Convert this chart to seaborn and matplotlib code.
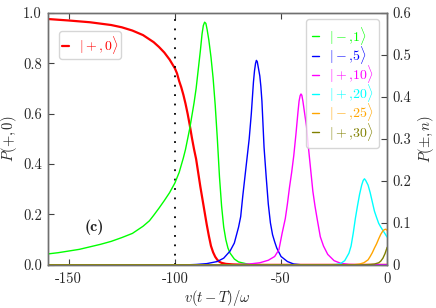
import matplotlib
matplotlib.use("Agg")
import matplotlib.pyplot as plt
import seaborn as sns
import pandas as pd

# P(+,0) on the left axis
red_x = [-160, -150, -140, -130, -125, -120, -115, -110, -107.5, -105, -102.5, -100, -99, -98,
         -97, -96, -95, -94, -93, -92, -91, -90, -89, -88, -87, -86, -85, -84, -83, -82,
         -81, -80, -79, -78, -76, -73, -70, -60, 0]
red_y = [0.976, 0.970, 0.963, 0.952, 0.943, 0.930, 0.912, 0.884, 0.865, 0.843, 0.815, 0.78,
         0.76, 0.73, 0.705, 0.675, 0.64, 0.60, 0.555, 0.505, 0.46, 0.42, 0.365, 0.31, 0.26,
         0.21, 0.16, 0.115, 0.075, 0.05, 0.032, 0.02, 0.012, 0.008, 0.004, 0.002, 0.001, 0, 0]

# P(+-,n) on the right axis
green_x = [-160, -155, -150, -145, -140, -135, -130, -125, -120, -115, -112, -110, -107.5,
           -105, -102.5, -100, -98, -96, -95, -94, -93, -92, -91, -90, -89, -88, -87.2,
           -86.6, -86, -85.4, -84.8, -84, -83, -82, -81, -80, -79, -78, -77, -76, -75, -74,
           -72, -70, -65, -60, 0]
green_y = [0.026, 0.029, 0.033, 0.037, 0.043, 0.049, 0.056, 0.065, 0.075, 0.092, 0.105, 0.118,
           0.135, 0.153, 0.172, 0.195, 0.22, 0.255, 0.275, 0.30, 0.325, 0.355, 0.385, 0.42,
           0.465, 0.51, 0.55, 0.57, 0.578, 0.575, 0.56, 0.535, 0.495, 0.445, 0.38, 0.30, 0.21,
           0.14, 0.09, 0.06, 0.04, 0.028, 0.014, 0.007, 0.001, 0, 0]

blue_x = [-160, -95, -90, -85, -80, -77, -74, -72, -70, -69, -68, -67, -66, -65, -64, -63,
          -62.5, -62, -61.6, -61.2, -60.7, -60, -59.5, -59, -58.5, -58, -57, -56, -55, -54,
          -53, -52, -50, -47, -44, -40, 0]
blue_y = [0, 0, 0.001, 0.003, 0.008, 0.016, 0.033, 0.052, 0.09, 0.115, 0.165, 0.21, 0.255,
          0.30, 0.36, 0.435, 0.462, 0.48, 0.487, 0.484, 0.47, 0.45, 0.425, 0.39, 0.335, 0.28,
          0.21, 0.145, 0.10, 0.072, 0.055, 0.04, 0.02, 0.008, 0.002, 0, 0]

magenta_x = [-160, -75, -65, -60, -56, -53, -51, -49.5, -48, -47, -46, -45, -44, -43, -42,
             -41.5, -41, -40.6, -40.2, -39.7, -39, -38, -37, -36, -35, -34, -33, -31.5, -30,
             -28, -25, -22, -18, -10, 0]
magenta_y = [0, 0, 0.002, 0.005, 0.011, 0.02, 0.036, 0.075, 0.11, 0.145, 0.185, 0.22, 0.26,
             0.31, 0.365, 0.39, 0.403, 0.407, 0.404, 0.39, 0.365, 0.33, 0.275, 0.225, 0.175,
             0.14, 0.11, 0.067, 0.045, 0.025, 0.01, 0.004, 0.001, 0, 0]

cyan_x = [-160, -28, -24, -22, -20, -18, -17, -16, -15, -14, -13, -12, -11.3, -10.7, -10.1,
          -9, -8, -7, -6, -5, -4, -3, -2, -1, 0]
cyan_y = [0, 0, 0.001, 0.003, 0.01, 0.028, 0.045, 0.075, 0.11, 0.14, 0.168, 0.19, 0.201,
          0.205, 0.201, 0.19, 0.172, 0.15, 0.128, 0.113, 0.099, 0.09, 0.082, 0.074, 0.066]

orange_x = [-160, -16, -13, -11, -9, -8, -7, -6, -5, -4, -3, -2, -1.3, -0.6, 0]
orange_y = [0, 0, 0.002, 0.005, 0.012, 0.02, 0.029, 0.04, 0.05, 0.062, 0.073, 0.081, 0.084,
            0.085, 0.082]

olive_x = [-160, -12, -8, -6, -4, -3, -2, -1, 0]
olive_y = [0, 0, 0.001, 0.002, 0.005, 0.009, 0.016, 0.027, 0.042]

states = [r'$|-{,}1\rangle$', r'$|-{,}5\rangle$', r'$|+{,}10\rangle$', r'$|+{,}20\rangle$',
          r'$|-{,}25\rangle$', r'$|+{,}30\rangle$']
colors = ['#00ff00', '#0000ff', '#ff00ff', '#00ffff', '#ffa500', '#808000']

sns.set_style("ticks")
plt.rcParams['font.family'] = 'cmr10'
plt.rcParams['mathtext.fontset'] = 'cm'
plt.rcParams['axes.unicode_minus'] = False
plt.rcParams['axes.formatter.use_mathtext'] = False
plt.rcParams['font.size'] = 10.5

frames = []
for name, xs, ys in zip(states, [green_x, blue_x, magenta_x, cyan_x, orange_x, olive_x],
                        [green_y, blue_y, magenta_y, cyan_y, orange_y, olive_y]):
    frames.append(pd.DataFrame({'x': xs, 'p': ys, 'state': name}))
df = pd.concat(frames, ignore_index=True)
red_df = pd.DataFrame({'x': red_x, 'p': red_y})

fig = plt.figure(figsize=(4.36, 3.08), dpi=100)
ax = fig.add_axes([0.109, 0.140, 0.779, 0.818])
ax2 = ax.twinx()

sns.lineplot(data=red_df, x='x', y='p', color='#ff0000', lw=1.6, ax=ax,
             label=r'$|+{,}\,0\rangle$', legend=False)
ax.axvline(-100, color='k', ls=(0, (1, 4.2)), lw=1.3)
sns.lineplot(data=df, x='x', y='p', hue='state', palette=colors, lw=1.0, ax=ax2,
             legend=False, sort=False)

ax.set_xlim(-160, 0)
ax.set_ylim(0, 1)
ax2.set_ylim(0, 0.6)
ax.set_xticks([-150, -100, -50, 0])
ax.set_xticklabels(['-150', '-100', '-50', '0'])
ax.set_yticks([0, 0.2, 0.4, 0.6, 0.8, 1.0])
ax.set_yticklabels(['0.0', '0.2', '0.4', '0.6', '0.8', '1.0'])
ax2.set_yticks([0, 0.1, 0.2, 0.3, 0.4, 0.5, 0.6])
ax2.set_yticklabels(['0', '0.1', '0.2', '0.3', '0.4', '0.5', '0.6'])

ax.set_xlabel(r'$v(t-T)/\omega$', labelpad=2)
ax.set_ylabel(r'$P(+,0)$', labelpad=3)
ax2.set_ylabel(r'$P(\pm,n)$', labelpad=3)

for a in (ax, ax2):
    for s in a.spines.values():
        s.set_color('#707070')
        s.set_linewidth(1.0)
ax.tick_params(axis='x', direction='in', top=True, length=4, color='#404040', pad=5)
ax.tick_params(axis='y', direction='in', length=4, color='#404040', pad=4)
ax2.tick_params(axis='y', direction='in', length=4, color='#404040', pad=4)

ax.text(-138, 0.15, '(c)', fontname='cmb10', fontsize=11.5, ha='center', va='center')

ax.legend(handles=ax.get_lines()[:1], loc='upper left', bbox_to_anchor=(0.033, 0.928),
          handlelength=0.55, handletextpad=0.7, labelcolor='linecolor',
          fontsize=10, borderpad=0.2, borderaxespad=0, framealpha=0.8)
handles = [plt.Line2D([], [], color=c, lw=1.0) for c in colors]
ax2.legend(handles, states, loc='upper right', bbox_to_anchor=(0.9756, 0.976),
           handlelength=0.55, handletextpad=0.7, labelcolor='linecolor', fontsize=10,
           borderpad=0.4, borderaxespad=0, labelspacing=-0.2, framealpha=0.8)

fig.savefig('out.png', dpi=100)
